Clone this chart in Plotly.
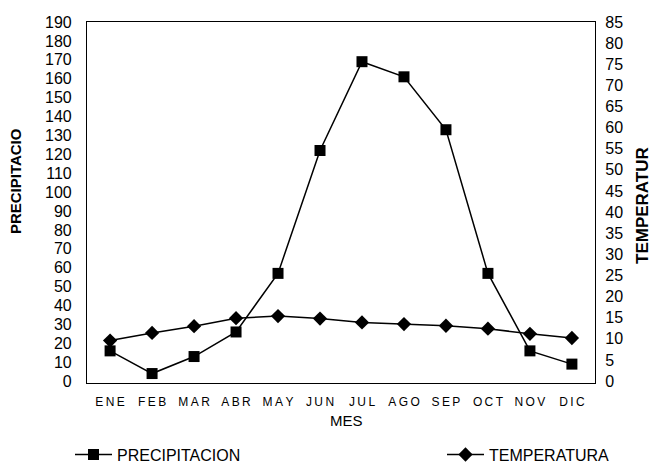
import plotly.graph_objects as go

months = ["ENE", "FEB", "MAR", "ABR", "MAY", "JUN", "JUL", "AGO", "SEP", "OCT", "NOV", "DIC"]
precipitacion = [16, 4, 13, 26, 57, 122, 169, 161, 133, 57, 16, 9]
temperatura = [9.6, 11.4, 13.0, 14.9, 15.4, 14.8, 13.9, 13.5, 13.1, 12.4, 11.2, 10.2]
left_ticks = list(range(0, 191, 10))
right_ticks = list(range(0, 86, 5))

FONT = "Liberation Sans, Arial, sans-serif"
x_labels = ["\u2009".join(m) for m in months]

L, R, T, B = 87, 57, 22, 83
W, H = 652, 468
H_LAYOUT = 484
PW, PH = W - L - R, H - T - B

def px_x(x):
    return (x - L) / PW

def px_y(y):
    return (H - B - y) / PH

fig = go.Figure()
fig.add_trace(go.Scatter(
    x=months, y=precipitacion, name="PRECIPITACION", mode="lines+markers",
    line=dict(color="black", width=1.5),
    marker=dict(symbol="square", size=11, color="black"),
    legend="legend",
))
fig.add_trace(go.Scatter(
    x=months, y=temperatura, name="TEMPERATURA", mode="lines+markers", yaxis="y2",
    line=dict(color="black", width=1.5),
    marker=dict(symbol="diamond", size=11, color="black"),
    legend="legend2",
))

leg_common = dict(orientation="h", yanchor="middle", xanchor="left",
                  font=dict(size=16, family=FONT, color="black"),
                  bgcolor="rgba(0,0,0,0)", borderwidth=0, itemwidth=37)

fig.update_layout(
    width=W, height=H_LAYOUT,
    margin=dict(l=L, r=R, t=T, b=B + (H_LAYOUT - H)),
    paper_bgcolor="white", plot_bgcolor="white",
    font=dict(family=FONT, color="black", size=14),
    showlegend=True,
    legend=dict(x=px_x(70), y=px_y(457), **leg_common),
    legend2=dict(x=px_x(442), y=px_y(457), **leg_common),
    xaxis=dict(
        type="category", categoryorder="array", categoryarray=months,
        tickmode="array", tickvals=months, ticktext=x_labels,
        range=[-0.55, 11.55], showgrid=False, zeroline=False,
        showline=True, linecolor="black", linewidth=1.2, mirror=True,
        ticks="", tickfont=dict(size=12), automargin=False,
        ticklabelstandoff=7,
    ),
    yaxis=dict(
        range=[-1, 190], tickmode="array", tickvals=left_ticks,
        showgrid=False, zeroline=False, showline=True, linecolor="black",
        linewidth=1.2, ticks="", tickfont=dict(size=16), automargin=False,
        ticklabelstandoff=11,
    ),
    yaxis2=dict(
        range=[-0.45, 85], tickmode="array", tickvals=right_ticks,
        overlaying="y", side="right", showgrid=False, zeroline=False,
        showline=True, linecolor="black", linewidth=1.2, ticks="",
        tickfont=dict(size=16), automargin=False, ticklabelstandoff=6,
    ),
    annotations=[
        dict(text="<b>PRECIPITACIO</b>", xref="paper", yref="paper",
             x=px_x(15), y=px_y(182), textangle=-90, showarrow=False,
             font=dict(size=15), xanchor="center", yanchor="middle"),
        dict(text="<b>TEMPERATUR</b>", xref="paper", yref="paper",
             x=px_x(643), y=px_y(207), textangle=-90, showarrow=False,
             font=dict(size=17), xanchor="center", yanchor="middle"),
        dict(text="MES", xref="paper", yref="paper",
             x=px_x(346), y=px_y(423), showarrow=False,
             font=dict(size=15), xanchor="center", yanchor="middle"),
    ],
)

post = ("document.body.style.margin='0';document.body.style.padding='0';"
        "document.body.style.overflow='hidden';")

fig.write_html("out.html", post_script=post,
               config={"responsive": False, "displayModeBar": False})
